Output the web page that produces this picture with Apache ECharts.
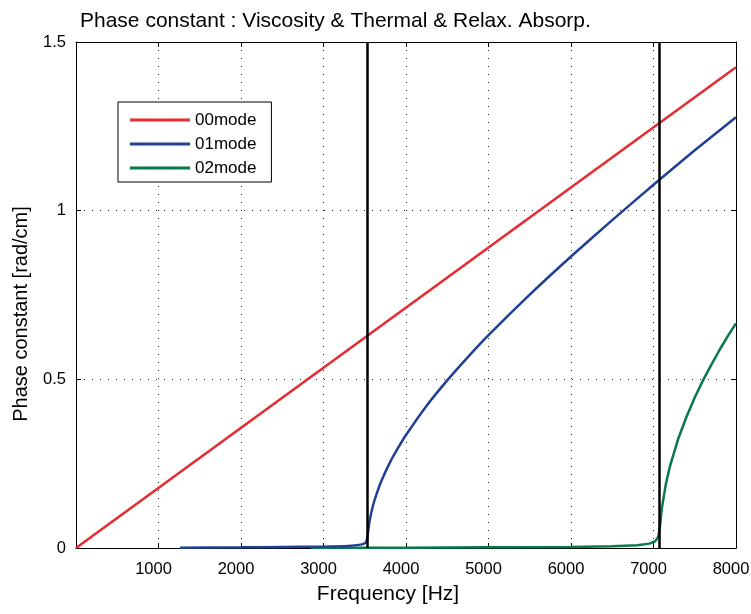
<!DOCTYPE html>
<html>
<head>
<meta charset="utf-8">
<script src="https://cdn.jsdelivr.net/npm/echarts@6/dist/echarts.min.js"></script>
<style>html,body{margin:0;padding:0;background:#fff}#c{width:751px;height:614px}</style>
</head>
<body>
<div id="c"></div>
<script>
// Frequencies [Hz] and phase constants [rad/cm]
var freq00 = [0, 8000];
var beta00 = [0, 1.425];

var freq01 = [1260, 2000, 2500, 3000, 3300, 3450, 3500, 3520, 3530, 3540, 3560, 3600, 3650, 3700, 3800, 3900, 4000, 4250, 4500, 4750, 5000, 5500, 6000, 6500, 7000, 7500, 8000];
var beta01 = [0.001, 0.002, 0.003, 0.004, 0.006, 0.010, 0.014, 0.020, 0.030, 0.047, 0.082, 0.126, 0.165, 0.198, 0.251, 0.295, 0.335, 0.422, 0.497, 0.566, 0.631, 0.751, 0.864, 0.972, 1.077, 1.179, 1.277];

var freq02 = [2850, 4000, 5000, 6000, 6500, 6800, 6950, 7020, 7050, 7065, 7070, 7080, 7100, 7150, 7200, 7300, 7400, 7500, 7600, 7700, 7800, 7900, 8000];
var beta02 = [0.001, 0.001, 0.002, 0.003, 0.005, 0.008, 0.013, 0.020, 0.030, 0.040, 0.050, 0.067, 0.116, 0.190, 0.243, 0.324, 0.389, 0.446, 0.497, 0.543, 0.587, 0.628, 0.666];

var cutoffFreqs = [3530, 7070];

var seriesNames = ['00mode', '01mode', '02mode'];
var xTicks = [0, 8000, 1000];
var yTicks = [0, 1.5, 0.5];

var titleText = 'Phase constant : Viscosity & Thermal & Relax. Absorp.';
var xName = 'Frequency [Hz]';
var yName = 'Phase constant [rad/cm]';

function pairs(xs, ys) { return xs.map(function (x, i) { return [x, ys[i]]; }); }

var FONT = '"Liberation Sans", Arial, Helvetica, sans-serif';
var chart = echarts.init(document.getElementById('c'), null, {renderer: 'canvas'});

var dotted = {show: true, lineStyle: {color: '#222', width: 1, type: [1, 7]}};
var boxLine = {show: true, onZero: false, lineStyle: {color: '#000', width: 1}};
var boxTick = {show: true, inside: true, length: 5, lineStyle: {color: '#000'}};

chart.setOption({
  animation: false,
  backgroundColor: '#fff',
  title: {
    text: titleText,
    left: 80, top: 11, padding: 0,
    textStyle: {fontFamily: FONT, fontSize: 21, fontWeight: 'normal', color: '#000'}
  },
  grid: {left: 76, right: 15, top: 42, bottom: 66, containLabel: false, outerBoundsMode: 'none'},
  legend: {
    data: seriesNames.map(function (n) { return {name: n, icon: 'rect'}; }),
    orient: 'vertical',
    left: 118, top: 102,
    itemWidth: 60, itemHeight: 3, itemGap: 6,
    padding: [9, 15, 5, 12],
    borderColor: '#000', borderWidth: 1, backgroundColor: '#fff',
    textStyle: {fontFamily: FONT, fontSize: 17, color: '#000', lineHeight: 18}
  },
  graphic: [{
    type: 'text', x: 388, y: 594,
    style: {text: xName, x: 0, y: 0, align: 'center', verticalAlign: 'middle',
      font: '21px ' + FONT, fill: '#000'}
  }, {
    type: 'text', x: 21, y: 314, rotation: Math.PI / 2,
    style: {text: yName, x: 0, y: 0, align: 'center', verticalAlign: 'middle',
      font: '20px ' + FONT, fill: '#000'}
  }],
  xAxis: [{
    type: 'value', min: xTicks[0], max: xTicks[1], interval: xTicks[2],
    axisLine: boxLine, axisTick: boxTick,
    axisLabel: {fontFamily: FONT, fontSize: 16.5, color: '#000', margin: 13,
      padding: [0, 10, 0, 0],
      formatter: function (v) { return v === 0 ? '' : String(v); }},
    splitLine: dotted
  }, {
    type: 'value', position: 'top', min: xTicks[0], max: xTicks[1], interval: xTicks[2],
    axisLine: boxLine, axisTick: boxTick,
    axisLabel: {show: false}, splitLine: {show: false}
  }],
  yAxis: [{
    type: 'value', min: yTicks[0], max: yTicks[1], interval: yTicks[2],
    axisLine: boxLine, axisTick: boxTick,
    axisLabel: {fontFamily: FONT, fontSize: 16.5, color: '#000', margin: 10},
    splitLine: dotted
  }, {
    type: 'value', position: 'right', min: yTicks[0], max: yTicks[1], interval: yTicks[2],
    axisLine: boxLine, axisTick: boxTick,
    axisLabel: {show: false}, splitLine: {show: false}
  }],
  series: [{
    name: seriesNames[0], type: 'line', data: pairs(freq00, beta00),
    showSymbol: false, symbol: 'none', z: 3,
    lineStyle: {color: '#e52a30', width: 2.5}, itemStyle: {color: '#e52a30'}
  }, {
    name: seriesNames[2], type: 'line', data: pairs(freq02, beta02),
    showSymbol: false, symbol: 'none', z: 3,
    lineStyle: {color: '#08794a', width: 2.5}, itemStyle: {color: '#08794a'}
  }, {
    name: seriesNames[1], type: 'line', data: pairs(freq01, beta01),
    showSymbol: false, symbol: 'none', z: 4, smooth: 0.2,
    lineStyle: {color: '#223f96', width: 2.5}, itemStyle: {color: '#223f96'},
    markLine: {
      silent: true, symbol: ['none', 'none'], z: 10,
      label: {show: false},
      lineStyle: {color: '#000', width: 2.5, type: 'solid'},
      data: cutoffFreqs.map(function (f) { return {xAxis: f}; })
    }
  }]
});
</script>
</body>
</html>
